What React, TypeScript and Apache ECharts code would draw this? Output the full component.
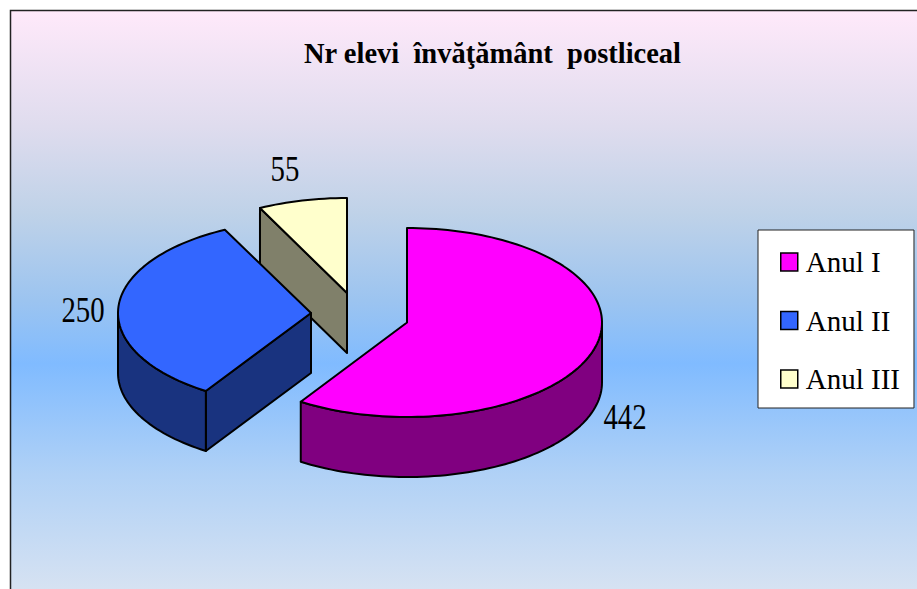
import React, { useEffect, useRef } from "react";
import * as echarts from "echarts";

const categories = ["Anul I", "Anul II", "Anul III"];
const values = [442, 250, 55];
const topColors = ["#FF00FF", "#3366FF", "#FFFFCC"];
const wallColors = ["#800080", "#19337F", "#80806A"];
const titleText = "Nr elevi  învăţământ  postliceal";

const centers = [[407, 322.5], [311, 313], [347, 293]];
const radiiX = [195, 193, 195];
const radiiY = [94.5, 93, 95];
const depth = 60;
const labelPos = [[625, 417], [83, 310], [285, 169]];
const zOrder = [6, 5, 4];

const total = values.reduce((a, b) => a + b, 0);
const STROKE = { stroke: "#000", lineWidth: 2, lineJoin: "round" };

function makeRenderItem(i: number) {
  const before = values.slice(0, i).reduce((a, b) => a + b, 0);
  return (_params: any, api: any) => {
    const v = api.value(0);
    const a0 = (before / total) * Math.PI * 2;
    const a1 = ((before + v) / total) * Math.PI * 2;
    const [cx, cy] = centers[i];
    const rx = radiiX[i];
    const ry = radiiY[i];
    const pt = (t: number, dy = 0) => [cx + rx * Math.sin(t), cy - ry * Math.cos(t) + dy];
    const arc = (s: number, e: number, dy = 0) => {
      const n = Math.max(2, Math.ceil(Math.abs(e - s) / 0.03));
      const out: number[][] = [];
      for (let k = 0; k <= n; k++) out.push(pt(s + ((e - s) * k) / n, dy));
      return out;
    };
    const children: any[] = [];
    const wall = (points: number[][]) =>
      children.push({
        type: "polygon",
        shape: { points },
        style: { fill: wallColors[i], ...STROKE },
      });
    // cut faces: drawn only if they face the viewer
    if (-Math.sin(a0) > 1e-6) {
      const p = pt(a0);
      wall([[cx, cy], p, [p[0], p[1] + depth], [cx, cy + depth]]);
    }
    if (Math.sin(a1) > 1e-6) {
      const p = pt(a1);
      wall([[cx, cy], p, [p[0], p[1] + depth], [cx, cy + depth]]);
    }
    // outer rim: the front half of the ellipse only
    const s = Math.max(a0, Math.PI / 2);
    const e = Math.min(a1, (Math.PI * 3) / 2);
    if (e > s) wall([...arc(s, e), ...arc(e, s, depth)]);
    children.push({
      type: "polygon",
      shape: { points: [[cx, cy], ...arc(a0, a1)] },
      style: { fill: topColors[i], ...STROKE },
    });
    children.push({
      type: "text",
      x: labelPos[i][0],
      y: labelPos[i][1],
      scaleX: 0.8,
      style: {
        text: String(v),
        fill: "#000",
        font: "36px 'Liberation Serif'",
        textAlign: "center",
        textVerticalAlign: "middle",
      },
    });
    return { type: "group", children };
  };
}

export default function App() {
  const ref = useRef<HTMLDivElement>(null);
  useEffect(() => {
    document.body.style.margin = "0";
    document.body.style.background = "#fff";
    const chart = echarts.init(ref.current!, undefined, { renderer: "svg" });
    chart.setOption({
      animation: false,
      title: {
        text: titleText,
        left: 487.5,
        top: 34,
        textAlign: "center",
        textStyle: { fontFamily: "Liberation Serif", fontWeight: "bold", fontSize: 28.5, color: "#000" },
      },
      legend: {
        orient: "vertical",
        left: 758,
        top: 230,
        data: categories,
        icon: "rect",
        itemWidth: 17,
        itemHeight: 18,
        itemGap: 29.5,
        padding: [17.5, 14, 14.5, 22],
        backgroundColor: "#fff",
        borderColor: "#222",
        borderWidth: 1,
        itemStyle: { borderColor: "#000", borderWidth: 1.5 },
        textStyle: { fontFamily: "Liberation Serif", fontSize: 29, color: "#000", padding: [0, 0, 0, 3] },
        selectedMode: false,
      },
      graphic: [
        {
          type: "rect",
          z: -1,
          silent: true,
          shape: { x: 10.5, y: 10.5, width: 930, height: 600 },
          style: {
            stroke: "#222",
            lineWidth: 1.5,
            fill: new echarts.graphic.LinearGradient(0, 0, 0, 1, [
              { offset: 0, color: "#FFE9FA" },
              { offset: 0.193, color: "#DFDCEE" },
              { offset: 0.338, color: "#BFD2E8" },
              { offset: 0.483, color: "#9CC4F0" },
              { offset: 0.589, color: "#80BBFF" },
              { offset: 0.772, color: "#B0D1F6" },
              { offset: 0.965, color: "#D6E2F2" },
              { offset: 1, color: "#D6E2F2" },
            ]),
          },
        },
      ],
      series: categories.map((name, i) => ({
        type: "custom",
        name,
        coordinateSystem: "none",
        z: zOrder[i],
        silent: true,
        clip: false,
        itemStyle: { color: topColors[i] },
        renderItem: makeRenderItem(i),
        data: [[values[i]]],
      })),
    });
    return () => chart.dispose();
  }, []);
  return <div ref={ref} style={{ position: "absolute", left: 0, top: 0, width: 917, height: 589 }} />;
}
